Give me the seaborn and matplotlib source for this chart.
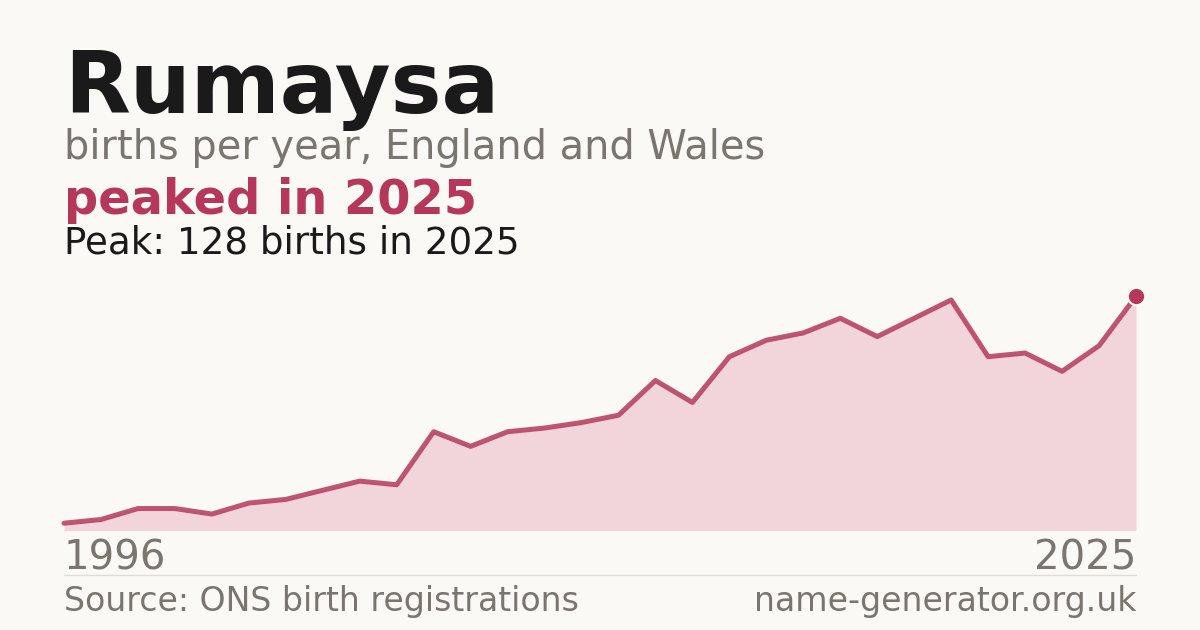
import numpy as np
import pandas as pd
import matplotlib
matplotlib.use("Agg")
import matplotlib.pyplot as plt
import seaborn as sns

# ---- data ----
years = list(range(1996, 2026))
births = [4, 6, 12, 12, 9, 15, 17, 22, 27, 25,
          54, 46, 54, 56, 59, 63, 82, 70, 95, 104,
          108, 116, 106, 116, 126, 95, 97, 87, 101, 128]
name = "Rumaysa"
subtitle = "births per year, England and Wales"
headline = "peaked in 2025"
peak_text = "Peak: 128 births in 2025"
start_label = "1996"
end_label = "2025"
source_text = "Source: ONS birth registrations"
site_text = "name-generator.org.uk"

df = pd.DataFrame({"year": years, "births": births})

BG = "#faf9f5"
ACCENT = "#b5385a"
FILL = "#f1d5db"
GRAY = "#7a756e"
DARK = "#1a1a1a"

sns.set_style("white")
plt.rcParams["font.family"] = ["DejaVu Sans"]

W, H = 1200, 630
fig = plt.figure(figsize=(12, 6.3), dpi=100, facecolor=BG)

def fx(px):
    return px / W

def fy(py):
    return 1 - py / H

# axes: x 64..1136, y 296..530.5
ax = fig.add_axes([fx(64), fy(530.5), fx(1136) - fx(64), (530.5 - 296.3) / H])
ax.set_facecolor("none")
ax.fill_between(df["year"], 0, df["births"], color=FILL, linewidth=0, zorder=1)
sns.lineplot(data=df, x="year", y="births", ax=ax, color=ACCENT, linewidth=3.6,
             alpha=0.85, zorder=2, clip_on=False)
ax.plot([years[-1]], [births[-1]], marker="o", markersize=12.5, color=ACCENT,
        markeredgecolor=BG, markeredgewidth=1.5, zorder=3, clip_on=False)
ax.set_xlim(years[0], years[-1])
ax.set_ylim(0, max(births))
ax.axis("off")

# texts
fig.text(fx(64), fy(113), name, fontsize=61.6, fontweight="bold", color=DARK, va="baseline", ha="left")
fig.text(fx(64), fy(159.5), subtitle, fontsize=28.7, color=GRAY, va="baseline", ha="left")
fig.text(fx(64), fy(214.5), headline, fontsize=34.5, fontweight="bold", color=ACCENT, va="baseline", ha="left")
fig.text(fx(64), fy(253.5), peak_text, fontsize=26.8, color=DARK, va="baseline", ha="left")

fig.text(fx(64), fy(570), start_label, fontsize=29, color=GRAY, va="baseline", ha="left")
fig.text(fx(1136), fy(570), end_label, fontsize=29, color=GRAY, va="baseline", ha="right")

fig.add_artist(plt.Line2D([fx(64), fx(1136)], [fy(574.5), fy(574.5)], color="#e0ddd6", linewidth=1))

fig.text(fx(64), fy(611), source_text, fontsize=23.9, color=GRAY, va="baseline", ha="left")
fig.text(fx(1136), fy(611), site_text, fontsize=23.9, color=GRAY, va="baseline", ha="right")

fig.savefig("out.png", dpi=100, facecolor=BG)
